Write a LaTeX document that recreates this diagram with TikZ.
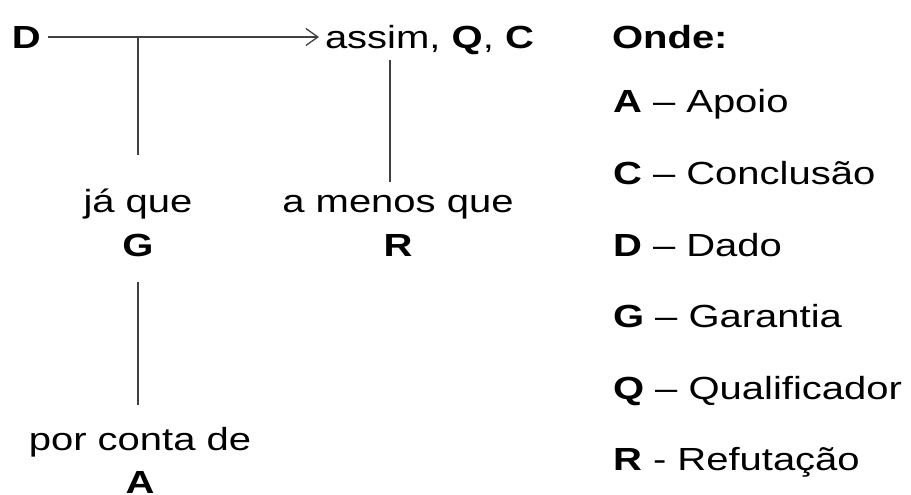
\documentclass[tikz,border=0pt]{standalone}
\usepackage{fontspec}
\setmainfont{Liberation Sans}
\usetikzlibrary{arrows.meta}
\definecolor{linegray}{HTML}{404040}
\tikzset{
  lbl/.style={font=\fontsize{32}{38}\selectfont, inner sep=0pt, outer sep=0pt,
              xscale=1.25, transform shape, text=black},
  conn/.style={draw=linegray, line width=1.3pt},
  arr/.style={conn, -{Straight Barb[length=12pt, width=17pt, line width=1.3pt]}},
}
\begin{document}
\begin{tikzpicture}[x=1pt, y=-1pt]
  \useasboundingbox (0,0) rectangle (911,495);

  % argument chain
  \node[lbl, anchor=base west] (dado) at (12,49) {\textbf{D}};
  \node[lbl, anchor=base west] (concl) at (325,49) {assim, \textbf{Q}, \textbf{C}};
  \coordinate (dstart) at (48,37);
  \coordinate (aend) at (319,37);
  \coordinate (junc) at (138,37);
  \draw[arr] (dstart) -- (aend);

  % warrant branch
  \node[lbl, anchor=base] (jaque) at (138,212) {já que};
  \node[lbl, anchor=base] (gar) at (138,256) {\textbf{G}};
  \coordinate (gtop) at (138,155);
  \draw[conn] (junc) -- (gtop);

  % backing
  \coordinate (gbot) at (138,282);
  \coordinate (atop) at (138,405);
  \draw[conn] (gbot) -- (atop);
  \node[lbl, anchor=base] (porconta) at (140,450) {por conta de};
  \node[lbl, anchor=base] (apoio) at (140,493) {\textbf{A}};

  % rebuttal branch
  \coordinate (rtop) at (390,60);
  \coordinate (rbot) at (390,182);
  \draw[conn] (rtop) -- (rbot);
  \node[lbl, anchor=base] (amenos) at (398,212) {a menos que};
  \node[lbl, anchor=base] (refut) at (398,256) {\textbf{R}};

  % key
  \node[lbl, anchor=base west] (onde) at (612,49) {\textbf{Onde:}};
  \node[lbl, anchor=base west] (ka) at (613,112) {\textbf{A} – Apoio};
  \node[lbl, anchor=base west] (kc) at (613,184) {\textbf{C} – Conclusão};
  \node[lbl, anchor=base west] (kd) at (613,256) {\textbf{D} – Dado};
  \node[lbl, anchor=base west] (kg) at (613,327) {\textbf{G} – Garantia};
  \node[lbl, anchor=base west] (kq) at (613,399) {\textbf{Q} – Qualificador};
  \node[lbl, anchor=base west] (kr) at (613,470) {\textbf{R} - Refutação};
\end{tikzpicture}
\end{document}
